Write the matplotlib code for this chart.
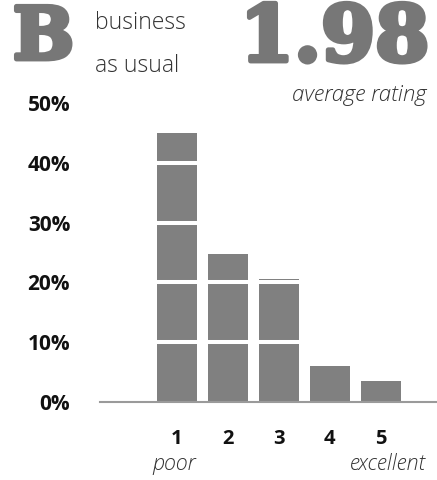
import matplotlib
matplotlib.use("Agg")
import matplotlib.pyplot as plt
import matplotlib.patheffects as pe

ratings = [1, 2, 3, 4, 5]
rating_labels = ["1", "2", "3", "4", "5"]
shares = [45.0, 24.7, 20.6, 6.0, 3.4]
y_ticks = [0, 10, 20, 30, 40, 50]
y_tick_labels = ["0%", "10%", "20%", "30%", "40%", "50%"]
grade = "B"
grade_caption = ["business", "as usual"]
average_rating = "1.98"

W, H = 437, 480
fig = plt.figure(figsize=(W / 100, H / 100), dpi=100)

# axes placed in pixel terms
left_px, right_px, bottom_px, top_px = 100, 437, 401.7, 103.2
ax = fig.add_axes([left_px / W, 1 - bottom_px / H,
                   (right_px - left_px) / W, (bottom_px - top_px) / H])

bar_color = "#808080"
ax.bar(ratings, shares, width=0.785, color=bar_color, zorder=2)
for t in y_ticks[1:-1]:
    ax.axhline(t, color="white", lw=2.9, zorder=3)

ax.set_xlim(-0.51, 6.1)
ax.set_ylim(0, 50)
for s in ["top", "right", "left"]:
    ax.spines[s].set_visible(False)
ax.spines["bottom"].set_color("#9a9a9a")
ax.spines["bottom"].set_linewidth(1.5)
ax.spines["bottom"].set_zorder(4)

ax.set_yticks(y_ticks)
ax.set_yticklabels(y_tick_labels, fontfamily="Open Sans", fontweight="bold",
                   fontsize=15, color="#111111")
ax.set_xticks(ratings)
ax.set_xticklabels(rating_labels, fontfamily="Open Sans", fontweight="bold",
                   fontsize=14.5, color="#111111")
ax.tick_params(axis="y", length=0, pad=21.5)
ax.tick_params(axis="x", length=0, pad=20)

# scale end labels
light = dict(fontfamily="Open Sans", fontweight="light", color="#333333")
fig.text(174 / W, 1 - 464 / H, "poor", ha="center", va="center",
         fontstyle="italic", fontsize=15.5, **light)
fig.text(426 / W, 1 - 464 / H, "excellent", ha="right", va="center",
         fontstyle="italic", fontsize=15.5, **light)

# header
grey = "#777777"
thick = [pe.withStroke(linewidth=3.5, foreground=grey)]
heavy = dict(fontfamily="DejaVu Serif", fontweight="heavy", color=grey)
fig.text(13 / W, 1 - 59 / H, grade, ha="left", va="baseline",
         fontsize=52, path_effects=thick, **heavy)
fig.text(95 / W, 1 - 29 / H, grade_caption[0], ha="left", va="baseline",
         fontsize=16.5, **light)
fig.text(95 / W, 1 - 72 / H, grade_caption[1], ha="left", va="baseline",
         fontsize=16.5, **light)
fig.text(429 / W, 1 - 61 / H, average_rating, ha="right", va="baseline",
         fontsize=56, path_effects=thick, **heavy)
fig.text(426 / W, 1 - 101 / H, "average rating", ha="right", va="baseline",
         fontstyle="italic", fontsize=16, **light)

fig.savefig("out.png", dpi=100)
